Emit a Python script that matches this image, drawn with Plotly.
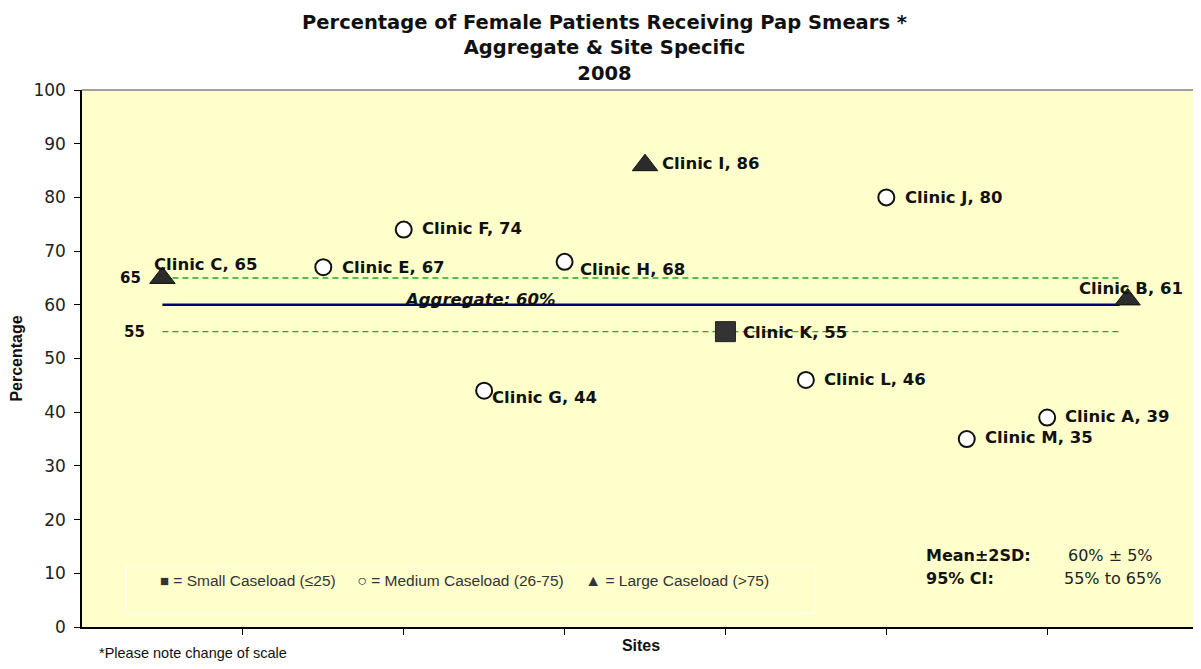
import plotly.graph_objects as go

# site data
sites = ["Clinic C", "Clinic E", "Clinic F", "Clinic G", "Clinic H", "Clinic I",
         "Clinic K", "Clinic L", "Clinic J", "Clinic M", "Clinic A", "Clinic B"]
site_pos = [1, 3, 4, 5, 6, 7, 8, 9, 10, 11, 12, 13]
pct = [65, 67, 74, 44, 68, 86, 55, 46, 80, 35, 39, 61]
caseload = ["large", "medium", "medium", "medium", "medium", "large",
            "small", "medium", "medium", "medium", "medium", "large"]

aggregate = 60
lower_ci = 55
upper_ci = 65
x_ticks = [2, 4, 6, 8, 10, 12]
y_ticks = [0, 10, 20, 30, 40, 50, 60, 70, 80, 90, 100]

# label nudges (pixels) so text sits like the original
label_dx = [-10, 17, 16, 6, 13, 15, 16, 16, 17, 16, 16, -51]
label_dy = [13, 0, 1, -7, -8, 2, -1, 0, 0, 2, 1, 11]

BOLD = "DejaVu Sans"
ARIAL = "Arial, Liberation Sans, sans-serif"

styles = {
    "small": dict(symbol="square", size=20, color="#333333", line=dict(color="#222222", width=1)),
    "medium": dict(symbol="circle", size=16, color="white", line=dict(color="#111111", width=2)),
    "large": dict(symbol="triangle-up", size=22, color="#2b2b2b", line=dict(color="#111111", width=1)),
}

fig = go.Figure()

x_first = min(site_pos)
x_last = max(site_pos)

# CI band lines and aggregate line
for lvl in (upper_ci, lower_ci):
    fig.add_trace(go.Scatter(x=[x_first, x_last - 0.1], y=[lvl, lvl], mode="lines",
                             line=dict(color="#22a622", width=1.4, dash="6px,4px"),
                             hoverinfo="skip", showlegend=False))
fig.add_trace(go.Scatter(x=[x_first, x_last - 0.1], y=[aggregate, aggregate], mode="lines",
                         line=dict(color="#000070", width=2.5),
                         hoverinfo="skip", showlegend=False))

for kind in ["small", "medium", "large"]:
    xs = [p for p, c in zip(site_pos, caseload) if c == kind]
    ys = [v for v, c in zip(pct, caseload) if c == kind]
    fig.add_trace(go.Scatter(x=xs, y=ys, mode="markers", marker=styles[kind],
                             showlegend=False, name=kind))

for i, name in enumerate(sites):
    fig.add_annotation(x=site_pos[i], y=pct[i], text=f"{name}, {pct[i]}",
                       showarrow=False, xanchor="left", yanchor="middle",
                       xshift=label_dx[i], yshift=label_dy[i],
                       font=dict(family=BOLD, size=16.5, color="#111111", weight="bold"))

fig.add_annotation(x=4.95, y=aggregate, text="<b><i>Aggregate: 60%</i></b>", showarrow=False,
                   yanchor="middle", yshift=5, font=dict(family=BOLD, size=16.5, color="#111111"))

for lvl, dx in ((upper_ci, 130), (lower_ci, 134)):
    fig.add_annotation(xref="paper", x=(dx - 82) / 1118, y=lvl, text=f"<b>{lvl}</b>",
                       showarrow=False, xanchor="center",
                       font=dict(family=BOLD, size=15, color="#111111"))

# caseload key box
fig.add_shape(type="rect", xref="paper", yref="paper",
              x0=(126 - 82) / 1118, x1=(815 - 82) / 1118, y0=(627 - 613) / 537, y1=(627 - 567) / 537,
              line=dict(color="#ffffee", width=1.5), fillcolor="rgba(0,0,0,0)", layer="below")
fig.add_annotation(xref="paper", yref="paper", x=(464 - 82) / 1118, y=(627 - 591) / 537,
                   text="<span style='font-size:15px'>■</span> = Small Caseload (≤25)     "
                        "<span style='font-size:16px'>○</span> = Medium Caseload (26-75)     "
                        "<span style='font-size:16px'>▲</span> = Large Caseload (>75)",
                   showarrow=False, font=dict(family=ARIAL, size=15.5, color="#333333"))

# stats block
stats = [("Mean±2SD:", "60% ± 5%", 1110, 567), ("95% CI:", "55% to 65%", 1112, 590)]
for lab, val, vx, py in stats:
    fig.add_annotation(xref="paper", yref="paper", x=(924 - 82) / 1118, y=(627 - py) / 537,
                       text=f"<b>{lab}</b>", showarrow=False, xanchor="left",
                       font=dict(family=BOLD, size=16, color="#111111"))
    fig.add_annotation(xref="paper", yref="paper", x=(vx - 82) / 1118, y=(627 - py) / 537,
                       text=val, showarrow=False, xanchor="center",
                       font=dict(family=BOLD, size=16, color="#222222"))

fig.add_annotation(xref="paper", yref="paper", x=(97 - 82) / 1118, y=-(653 - 627) / 537,
                   text="*Please note change of scale", showarrow=False, xanchor="left",
                   yanchor="middle", font=dict(family=ARIAL, size=14.5, color="#111111"))

# the page adds an 8px body margin, so the figure is shrunk to fit the window
fig.update_layout(
    width=1193, height=653,
    margin=dict(l=74, r=1, t=82, b=34),
    paper_bgcolor="white",
    plot_bgcolor="#ffffcc",
    title=dict(text="Percentage of Female Patients Receiving Pap Smears *<br>Aggregate & Site Specific<br>2008",
               x=0.5, xanchor="center", y=1 - 21 / 653, yanchor="top",
               font=dict(family=BOLD, size=19.5, color="#111111", weight="bold")),
    xaxis=dict(range=[0, 13.9], tickvals=x_ticks, showticklabels=False, ticks="outside",
               ticklen=6, tickcolor="black", showgrid=False, zeroline=False, automargin=False,
               showline=True, linecolor="black", linewidth=1.5,
               title=dict(text="<b>Sites</b>", standoff=6,
                          font=dict(family=ARIAL, size=16, color="#111111"))),
    yaxis=dict(range=[0, 100], tickvals=y_ticks, ticks="outside", ticklen=6, tickcolor="black",
               showgrid=False, zeroline=False, showline=True, linecolor="black", linewidth=1.5,
               automargin=False, ticklabelstandoff=5,
               tickfont=dict(family=BOLD, size=17, color="#222222"),
               title=dict(text="<b>Percentage</b>", standoff=8,
                          font=dict(family=ARIAL, size=16, color="#111111"))),
)
fig.add_shape(type="line", xref="paper", yref="paper", x0=0, x1=1, y0=1, y1=1,
              line=dict(color="#a0a0a0", width=2))

fig.write_html("out.html")
